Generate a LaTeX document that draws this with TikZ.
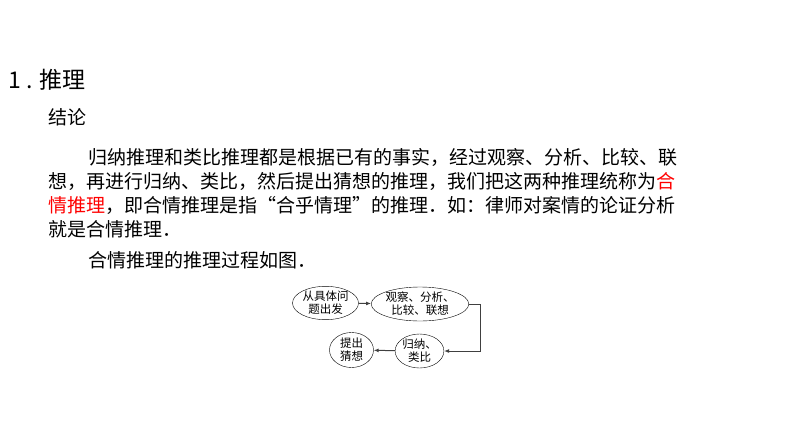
\documentclass[tikz,border=0pt]{standalone}
\usepackage{fontspec}
\setmainfont{Noto Sans CJK SC}
\usetikzlibrary{shapes.geometric,arrows.meta}
\begin{document}
\begin{tikzpicture}[x=1pt,y=1pt,
  para/.style={anchor=west,inner sep=0pt,font=\fontsize{19pt}{22pt}\selectfont},
  ell/.style={draw,ellipse,inner sep=0pt,align=center,font=\fontsize{11.5pt}{13pt}\selectfont},
  conn/.style={draw=black!75,line width=1pt,-{Latex[length=5pt,width=4pt]}}]
\useasboundingbox (0,0) rectangle (794,-447);
\node[anchor=west,inner sep=0pt,font=\fontsize{23pt}{26pt}\selectfont] (t) at (8,-80) {1 . 推理};
\node[para] (l0) at (48,-117) {结论};
\node[para] (l1) at (88,-157) {归纳推理和类比推理都是根据已有的事实，经过观察、分析、比较、联};
\node[para] (l2) at (48,-181) {想，再进行归纳、类比，然后提出猜想的推理，我们把这两种推理统称为\textcolor{red}{合}};
\node[para] (l3) at (48,-205) {\textcolor{red}{情推理}，即合情推理是指“合乎情理”的推理．如：律师对案情的论证分析};
\node[para] (l4) at (48,-229) {就是合情推理．};
\node[para] (l5) at (88,-260) {合情推理的推理过程如图．};
\node[ell,minimum width=66pt,minimum height=29pt] (a) at (325.5,-303) {从具体问\\题出发};
\node[ell,minimum width=87pt,minimum height=34pt] (b) at (420,-304) {观察、分析、\\比较、联想};
\node[ell,minimum width=46pt,minimum height=34pt] (c) at (419.5,-351) {归纳、\\类比};
\node[ell,minimum width=44pt,minimum height=35pt] (d) at (351.5,-350) {提出\\猜想};
\coordinate (r1) at (480,-304);
\coordinate (r2) at (480,-351);
\draw[conn] (a) -- (b);
\draw[conn] (b.east) -- (r1) -- (r2) -- (c.east);
\draw[conn] (c) -- (d);
\end{tikzpicture}
\end{document}
